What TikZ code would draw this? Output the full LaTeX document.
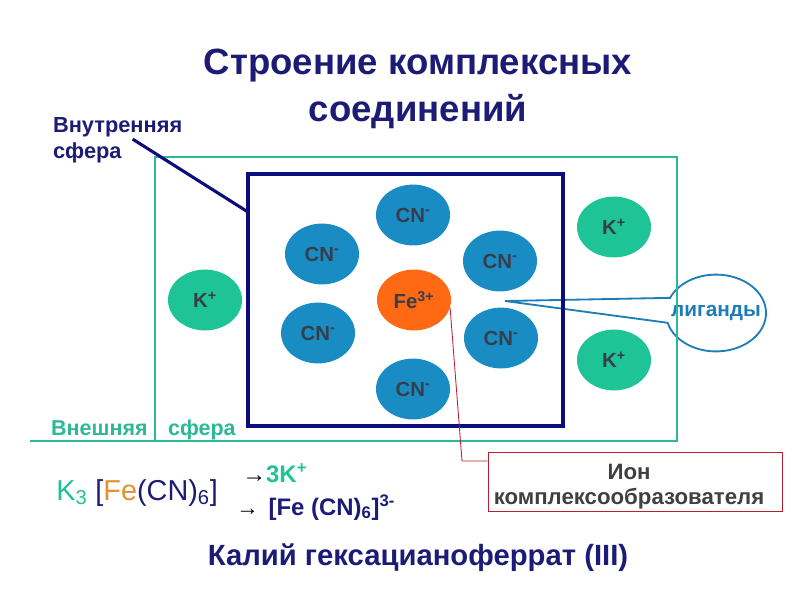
\documentclass[tikz,border=0pt]{standalone}
\usepackage{fontspec}
\setmainfont{Liberation Sans}
\usetikzlibrary{shapes.geometric,shapes.callouts}

\definecolor{navy}{RGB}{28,28,118}
\definecolor{framenavy}{RGB}{12,12,125}
\definecolor{tealline}{RGB}{45,185,150}
\definecolor{kgreen}{RGB}{30,195,150}
\definecolor{cnblue}{RGB}{25,140,195}
\definecolor{feorange}{RGB}{255,105,20}
\definecolor{fetext}{RGB}{225,145,50}
\definecolor{iongray}{RGB}{55,62,75}
\definecolor{callblue}{RGB}{30,125,185}
\definecolor{ionred}{RGB}{185,30,50}
\definecolor{boxgray}{RGB}{64,64,64}

\begin{document}
\begin{tikzpicture}[x=0.025cm, y=-0.025cm,
    ion/.style={ellipse, inner sep=0pt, minimum width=1.85cm, minimum height=1.52cm, text=iongray, font=\bfseries\fontsize{14.5}{16}\selectfont},
    cnion/.style={ion, fill=cnblue},
    kion/.style={ion, fill=kgreen},
    lbl/.style={inner sep=2pt, font=\bfseries\fontsize{15.5}{19}\selectfont},
    formula/.style={inner sep=0pt, anchor=base west, font=\fontsize{20.5}{22}\selectfont}]
    \useasboundingbox (0,0) rectangle (800,600);
    % Title
    \node[text=navy, align=center, font=\bfseries\fontsize{26}{33.5}\selectfont] (title) at (418,89) {Строение комплексных\\соединений};
    % Ligand callout
    \coordinate (ligtip) at (505,301);
    \node[ellipse callout, draw=callblue, line width=1.3pt, fill=white, text=callblue, font=\bfseries\fontsize{14.8}{18}\selectfont,
        minimum width=2.5cm, minimum height=1.92cm, inner xsep=-14pt, inner ysep=0pt,
        callout absolute pointer={(ligtip)}, callout pointer arc=38] (lig) at (716,313) {лиганды};
    % Spheres
    \draw[tealline, line width=1.8pt] (30,441) -- (677,441) -- (677,157) -- (155,157) -- (155,441);
    \node[draw=framenavy, line width=2.5pt, minimum width=7.875cm, minimum height=6.3cm] (inner) at (405.5,300) {};
    \coordinate (innertip) at (248,212);
    \node[lbl, text=navy, anchor=base west] (innerlbl) at (50,132) {Внутренняя};
    \node[lbl, text=navy, anchor=base west] (innersf) at (50,158) {сфера};
    \draw[framenavy, line width=2.2pt] ([xshift=0.2cm]innersf.north east) -- (innertip);
    \node[lbl, text=tealline, anchor=base west, font=\bfseries\fontsize{15.3}{17}\selectfont] (outerlbl) at (48,435) {Внешняя};
    \node[lbl, text=tealline, anchor=base west, font=\bfseries\fontsize{15.3}{17}\selectfont] (outersf) at (165,435) {сфера};
    % Ions
    \node[ion, fill=feorange] (fe) at (414,300) {Fe\textsuperscript{3+}};
    \node[cnion] (cn1) at (413,215) {CN\textsuperscript{-}};
    \node[cnion] (cn2) at (322,254) {CN\textsuperscript{-}};
    \node[cnion] (cn3) at (500,261) {CN\textsuperscript{-}};
    \node[cnion] (cn4) at (318,333) {CN\textsuperscript{-}};
    \node[cnion] (cn5) at (501,338) {CN\textsuperscript{-}};
    \node[cnion] (cn6) at (413,389) {CN\textsuperscript{-}};
    \node[kion] (k1) at (205,300) {K\textsuperscript{+}};
    \node[kion] (k2) at (614,227) {K\textsuperscript{+}};
    \node[kion] (k3) at (614,360) {K\textsuperscript{+}};
    % Central ion label
    \node[draw=ionred, line width=0.6pt, minimum width=7.35cm, minimum height=1.475cm] (ionbox) at (635,481.5) {};
    \node[align=center, text=boxgray, font=\bfseries\fontsize{15.8}{17.8}\selectfont] (iontext) at (629,487) {Ион\\комплексообразователя};
    \coordinate (feknee) at (462,461);
    \draw[ionred, line width=0.6pt] (fe.-12) -- (feknee) -- (feknee -| ionbox.west);
    % Formula
    \node[formula] (salt) at (56,500) {\textcolor{kgreen}{K\textsubscript{3}} \textcolor{navy}{[}\textcolor{fetext}{Fe}\textcolor{navy}{(CN)\textsubscript{6}]}};
    \node[formula, font=\bfseries\fontsize{17}{20}\selectfont] (kpart) at (242,482) {{\mdseries\fontsize{17}{17}\selectfont →}\textcolor{kgreen}{3K\textsuperscript{+}}};
    \node[formula, font=\bfseries\fontsize{17}{20}\selectfont] (fepart) at (236,515) {{\mdseries\fontsize{16}{16}\selectfont →}\hspace{7pt}\textcolor{navy}{[Fe (CN)\textsubscript{6}]\textsuperscript{3-}}};
    % Name
    \node[text=navy, font=\bfseries\fontsize{20.8}{24}\selectfont] (name) at (418,558) {Калий гексацианоферрат (III)};
\end{tikzpicture}
\end{document}
